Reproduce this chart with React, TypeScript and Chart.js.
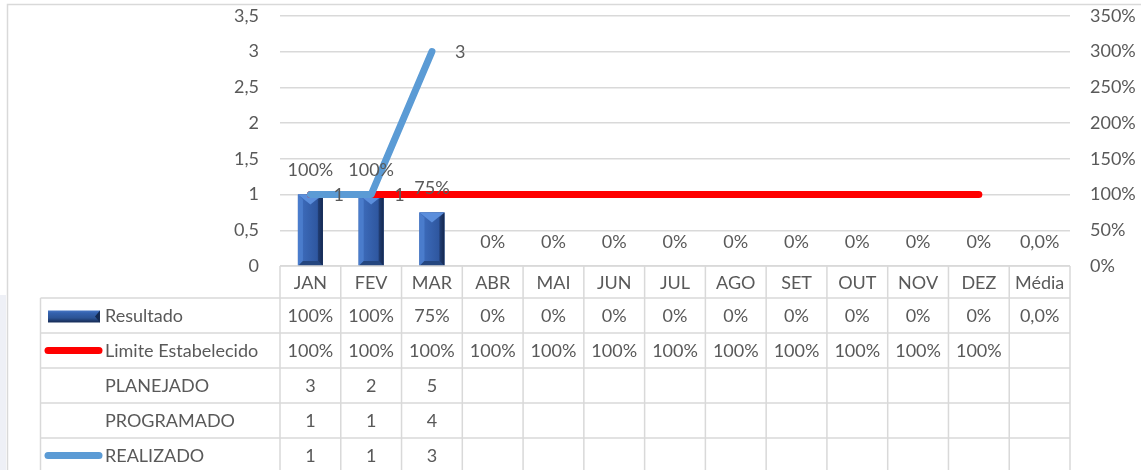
import React, { useEffect, useRef } from "react";
import { Chart, registerables } from "chart.js";

Chart.register(...registerables);

const categories = ["JAN", "FEV", "MAR", "ABR", "MAI", "JUN", "JUL", "AGO", "SET", "OUT", "NOV", "DEZ", "Média"];
const resultado = [1, 1, 0.75, 0, 0, 0, 0, 0, 0, 0, 0, 0, 0];
const limite = [1, 1, 1, 1, 1, 1, 1, 1, 1, 1, 1, 1, null];
const planejado = [3, 2, 5, null, null, null, null, null, null, null, null, null, null];
const programado = [1, 1, 4, null, null, null, null, null, null, null, null, null, null];
const realizado = [1, 1, 3, null, null, null, null, null, null, null, null, null, null];
const leftTicks = [0, 0.5, 1, 1.5, 2, 2.5, 3, 3.5];

const FONT = "Lato";
const TXT = "#595959";
const GRID = "#D9D9D9";
const BLUE_LINE = "#5B9BD5";
const RED = "#FF0000";
const OY = 16; // canvas is shifted up by this amount

const fmtPct = (v: number | null, i: number) =>
  v === null ? "" : i === categories.length - 1 ? (v * 100).toFixed(1).replace(".", ",") + "%" : Math.round(v * 100) + "%";
const fmtNum = (v: number | null) => (v === null ? "" : String(v).replace(".", ","));

function drawBevelBar(ctx: CanvasRenderingContext2D, x0: number, x1: number, top: number, bottom: number) {
  const w = x1 - x0;
  const h = bottom - top;
  if (h <= 0) return;
  const b = Math.min(5, w / 4, h / 2);
  const cx = (x0 + x1) / 2;
  const g = ctx.createLinearGradient(x0, 0, x1, 0);
  g.addColorStop(0, "#3F6FC0");
  g.addColorStop(1, "#2A5096");
  ctx.fillStyle = g;
  ctx.fillRect(x0, top, w, h);
  ctx.fillStyle = "#4A7CCC";
  ctx.beginPath();
  ctx.moveTo(x0, top);
  ctx.lineTo(x0 + b, top + b);
  ctx.lineTo(x0 + b, bottom - b);
  ctx.lineTo(x0, bottom);
  ctx.closePath();
  ctx.fill();
  const gr = ctx.createLinearGradient(x1 - b, 0, x1, 0);
  gr.addColorStop(0, "#223F77");
  gr.addColorStop(1, "#14284F");
  ctx.fillStyle = gr;
  ctx.beginPath();
  ctx.moveTo(x1, top);
  ctx.lineTo(x1 - b, top + b);
  ctx.lineTo(x1 - b, bottom - b);
  ctx.lineTo(x1, bottom);
  ctx.closePath();
  ctx.fill();
  ctx.fillStyle = "#24467F";
  ctx.beginPath();
  ctx.moveTo(x0, bottom);
  ctx.lineTo(x0 + b, bottom - b);
  ctx.lineTo(x1 - b, bottom - b);
  ctx.lineTo(x1, bottom);
  ctx.closePath();
  ctx.fill();
  ctx.fillStyle = "#5B8EDC";
  ctx.beginPath();
  ctx.moveTo(x0, top);
  ctx.lineTo(x1, top);
  ctx.lineTo(cx, top + Math.min(10, h));
  ctx.closePath();
  ctx.fill();
}

const chartPlugin = {
  id: "excelLook",
  beforeDraw(chart: any) {
    const ctx = chart.ctx;
    ctx.save();
    ctx.fillStyle = "#FFFFFF";
    ctx.fillRect(0, 0, chart.width, chart.height);
    ctx.fillStyle = "#EEF0F6";
    ctx.fillRect(0, 295 + OY, 6, chart.height - 295 - OY);
    ctx.strokeStyle = GRID;
    ctx.lineWidth = 1.5;
    ctx.beginPath();
    ctx.moveTo(7.5, chart.height);
    ctx.lineTo(7.5, 4.5 + OY);
    ctx.lineTo(chart.width, 4.5 + OY);
    ctx.stroke();
    ctx.restore();
  },
  afterDatasetDraw(chart: any, args: any) {
    if (args.index !== 0) return;
    const ctx = chart.ctx;
    ctx.save();
    args.meta.data.forEach((el: any) => {
      const x0 = el.x - el.width / 2;
      drawBevelBar(ctx, x0, x0 + el.width, el.y, el.base);
    });
    ctx.restore();
  },
  afterDraw(chart: any) {
    const ctx = chart.ctx;
    const area = chart.chartArea;
    const xs = chart.scales.x;
    ctx.save();
    ctx.font = `18px ${FONT}`;
    ctx.fillStyle = TXT;
    const barMeta = chart.getDatasetMeta(0);
    ctx.textAlign = "center";
    ctx.textBaseline = "middle";
    barMeta.data.forEach((el: any, i: number) => {
      ctx.fillText(fmtPct(resultado[i], i), el.x, el.y - 24);
    });
    const lineMeta = chart.getDatasetMeta(2);
    ctx.textAlign = "left";
    lineMeta.data.forEach((el: any, i: number) => {
      if (realizado[i] === null) return;
      ctx.fillText(fmtNum(realizado[i]), el.x + 23, el.y + 1);
    });

    const n = categories.length;
    const colW = (area.right - area.left) / n;
    const headTop = area.bottom;
    const headBot = area.bottom + 32;
    const rowH = 35;
    const tableLeft = 40.5;
    const rows = [
      { name: "Resultado", vals: resultado.map((v, i) => fmtPct(v, i)), key: "bar" },
      { name: "Limite Estabelecido", vals: limite.map((v, i) => fmtPct(v, i)), key: "red" },
      { name: "PLANEJADO", vals: planejado.map(fmtNum), key: "" },
      { name: "PROGRAMADO", vals: programado.map(fmtNum), key: "" },
      { name: "REALIZADO", vals: realizado.map(fmtNum), key: "blue" },
    ];
    const bottomY = headBot + rowH * rows.length;
    ctx.strokeStyle = GRID;
    ctx.lineWidth = 1.5;
    ctx.beginPath();
    ctx.moveTo(area.left, headTop);
    ctx.lineTo(area.right, headTop);
    for (let r = 0; r <= rows.length; r++) {
      const y = headBot + r * rowH;
      ctx.moveTo(tableLeft, y);
      ctx.lineTo(area.right, y);
    }
    for (let c = 0; c <= n; c++) {
      const x = area.left + c * colW;
      ctx.moveTo(x, headTop);
      ctx.lineTo(x, bottomY);
    }
    ctx.moveTo(tableLeft, headBot);
    ctx.lineTo(tableLeft, bottomY);
    ctx.stroke();

    ctx.fillStyle = TXT;
    ctx.textAlign = "center";
    ctx.textBaseline = "middle";
    categories.forEach((c, i) => {
      ctx.fillText(c, xs.getPixelForValue(i), (headTop + headBot) / 2 + 1);
    });
    rows.forEach((row, r) => {
      const cy = headBot + r * rowH + rowH / 2 + 1;
      ctx.textAlign = "center";
      ctx.fillStyle = TXT;
      row.vals.forEach((v, i) => {
        if (v) ctx.fillText(v, xs.getPixelForValue(i), cy);
      });
      ctx.textAlign = "left";
      ctx.fillText(row.name, 105, cy);
      if (row.key === "bar") {
        const g = ctx.createLinearGradient(0, cy - 7, 0, cy + 5);
        g.addColorStop(0, "#4E7FCF");
        g.addColorStop(0.3, "#3461AD");
        g.addColorStop(0.7, "#2C5496");
        g.addColorStop(1, "#1A3260");
        ctx.fillStyle = g;
        ctx.fillRect(48, cy - 6, 52, 12);
        ctx.fillStyle = "#142A52";
        ctx.beginPath();
        ctx.moveTo(100, cy - 6);
        ctx.lineTo(95, cy);
        ctx.lineTo(100, cy + 6);
        ctx.closePath();
        ctx.fill();
        ctx.fillStyle = TXT;
      } else if (row.key === "red" || row.key === "blue") {
        ctx.strokeStyle = row.key === "red" ? RED : BLUE_LINE;
        ctx.lineWidth = 7;
        ctx.lineCap = "round";
        ctx.beginPath();
        ctx.moveTo(48, cy - 1);
        ctx.lineTo(99, cy - 1);
        ctx.stroke();
      }
    });
    ctx.restore();
  },
};

export default function App() {
  const ref = useRef<HTMLCanvasElement>(null);
  useEffect(() => {
    if (!ref.current) return;
    const chart = new Chart(ref.current, {
      type: "bar",
      data: {
        labels: categories,
        datasets: [
          {
            type: "bar",
            label: "Resultado",
            data: resultado,
            yAxisID: "y1",
            backgroundColor: "#2F5597",
            barPercentage: 0.41,
            categoryPercentage: 1,
            order: 3,
          },
          {
            type: "line",
            label: "Limite Estabelecido",
            data: limite,
            yAxisID: "y1",
            borderColor: RED,
            borderWidth: 7,
            pointRadius: 0,
            borderCapStyle: "round",
            borderJoinStyle: "round",
            spanGaps: false,
            order: 2,
          },
          {
            type: "line",
            label: "REALIZADO",
            data: realizado,
            yAxisID: "y",
            borderColor: BLUE_LINE,
            borderWidth: 7,
            pointRadius: 0,
            borderCapStyle: "round",
            borderJoinStyle: "round",
            spanGaps: false,
            order: 1,
          },
        ] as any,
      },
      options: {
        responsive: false,
        animation: false,
        devicePixelRatio: 1,
        layout: { padding: { top: 0, bottom: 204, left: 0, right: 0 } },
        plugins: { legend: { display: false }, tooltip: { enabled: false } },
        scales: {
          x: { display: false, offset: true },
          y: {
            position: "left",
            min: 0,
            max: 3.5,
            afterFit: (s: any) => {
              s.width = 280;
            },
            afterBuildTicks: (s: any) => {
              s.ticks = leftTicks.map((v) => ({ value: v }));
            },
            grid: { color: GRID, lineWidth: 1.5, drawTicks: false },
            border: { display: false },
            ticks: {
              padding: 21,
              color: TXT,
              font: { family: FONT, size: 18 },
              callback: (v: any) => String(v).replace(".", ","),
            },
          },
          y1: {
            position: "right",
            min: 0,
            max: 3.5,
            afterFit: (s: any) => {
              s.width = 71;
            },
            afterBuildTicks: (s: any) => {
              s.ticks = leftTicks.map((v) => ({ value: v }));
            },
            grid: { display: false, drawTicks: false },
            border: { display: false },
            ticks: {
              padding: 20,
              color: TXT,
              font: { family: FONT, size: 18 },
              callback: (v: any) => Math.round(Number(v) * 100) + "%",
            },
          },
        },
      },
      plugins: [chartPlugin],
    });
    return () => chart.destroy();
  }, []);
  return (
    <div style={{ position: "fixed", left: 0, top: 0, width: 1141, height: 470, overflow: "hidden", background: "#fff" }}>
      <canvas
        ref={ref}
        width={1141}
        height={470 + OY}
        style={{ display: "block", position: "absolute", left: 0, top: -OY, width: 1141, height: 470 + OY }}
      />
    </div>
  );
}
